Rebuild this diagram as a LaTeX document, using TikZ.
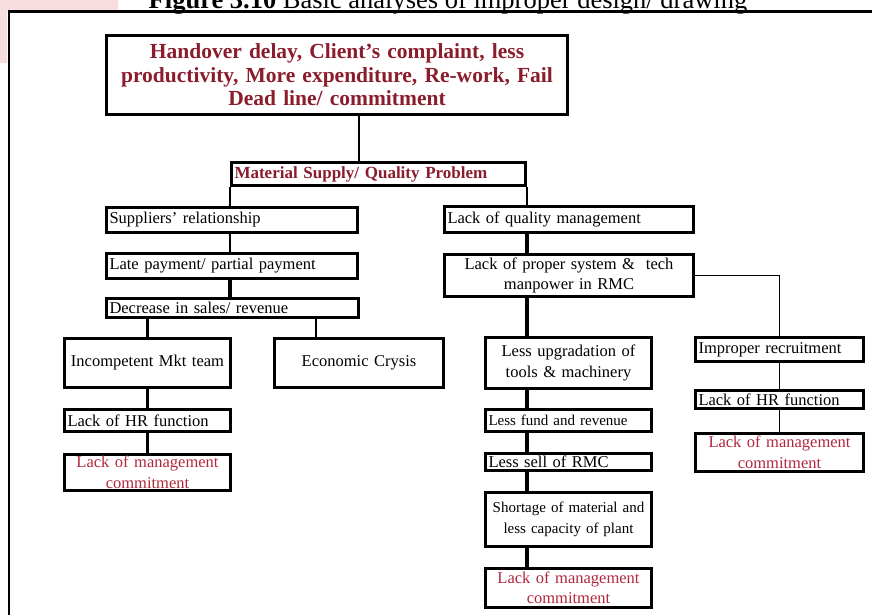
\documentclass[tikz,border=0pt]{standalone}
\usepackage{fontspec}
\setmainfont{Liberation Serif}
\definecolor{headred}{HTML}{8A1C2C}
\definecolor{causered}{HTML}{B0283C}
\definecolor{pinkbg}{HTML}{F9DCE0}

\begin{document}
\begin{tikzpicture}[x=1pt,y=-1pt,
  box/.style={draw, line width=3pt, inner xsep=3pt, inner ysep=0pt,
    font=\fontsize{16.5}{20.5}\selectfont},
  lbox/.style={box, align=left},
  cbox/.style={box, align=center},
  redbox/.style={cbox, text=causered},
  thinline/.style={line width=1.8pt},
  thickline/.style={line width=3.4pt}]
  \useasboundingbox (0,0) rectangle (872,615);
  \fill[pinkbg] (0,0) rectangle (118,11) (0,11) rectangle (7,63);
  % title, cut at the top of the page
  \node[anchor=base, font=\fontsize{26.5}{28}\selectfont] (title) at (448,8.5)
    {\textbf{Figure 3.10} Basic analyses of improper design/ drawing};
  \draw[line width=2.6pt] (9,620) -- (9,11.7) -- (880,11.7);

  % effect
  \node[cbox, text width=455pt, minimum height=79pt, text=headred,
    font=\bfseries\fontsize{21.5}{23.5}\selectfont] (top) at (337,75)
    {Handover delay, Client's complaint, less\\
     productivity, More expenditure, Re-work, Fail\\
     Dead line/ commitment};
  \node[lbox, text width=288pt, minimum height=23pt, text=headred,
    font=\bfseries\fontsize{17}{19}\selectfont] (ms) at (378.5,174)
    {Material Supply/ Quality Problem};

  % supply branch
  \node[lbox, text width=245pt, minimum height=25pt] (sup) at (232,220) {Suppliers' relationship};
  \node[lbox, text width=245pt, minimum height=25pt] (late) at (232,266) {Late payment/ partial payment};
  \node[lbox, text width=246pt, minimum height=19pt] (dec) at (232.5,308) {Decrease in sales/ revenue};
  \node[cbox, text width=160pt, minimum height=49pt] (inc) at (147.5,363) {Incompetent Mkt team};
  \node[cbox, text width=163pt, minimum height=49pt] (eco) at (359,363) {Economic Crysis};
  \node[lbox, text width=160pt, minimum height=22pt] (hrl) at (147.5,420.5) {Lack of HR function};
  \node[redbox, text width=160pt, minimum height=36pt] (mcl) at (147.5,472.5)
    {Lack of management\\ commitment};

  % quality branch
  \node[lbox, text width=243pt, minimum height=26pt] (lqm) at (569,219.5) {Lack of quality management};
  \node[cbox, text width=243pt, minimum height=42pt] (lps) at (569,275.5)
    {Lack of proper system \&\ \ tech\\ manpower in RMC};
  \node[cbox, text width=160pt, minimum height=51pt] (upg) at (568.5,363)
    {Less upgradation of\\ tools \& machinery};
  \node[lbox, text width=160pt, minimum height=22pt, font=\fontsize{15}{17}\selectfont] (fund) at (568.5,420.5)
    {Less fund and revenue};
  \node[lbox, text width=160pt, minimum height=17pt] (sell) at (568.5,462) {Less sell of RMC};
  \node[cbox, text width=160pt, minimum height=54pt, font=\fontsize{15}{20.5}\selectfont] (short) at (568.5,519.5)
    {Shortage of material and\\ less capacity of plant};
  \node[redbox, text width=160pt, minimum height=39pt] (mcm) at (568.5,588)
    {Lack of management\\ commitment};
  \node[lbox, text width=162pt, minimum height=24pt] (impr) at (779.5,349.5) {Improper recruitment};
  \node[lbox, text width=162pt, minimum height=18pt] (hrr) at (779.5,399.5) {Lack of HR function};
  \node[redbox, text width=162pt, minimum height=38pt] (mcr) at (779.5,452.5)
    {Lack of management\\ commitment};

  \coordinate (drop) at ([xshift=22pt]top.south);
  \coordinate (ecotop) at ([xshift=-43pt]eco.north);

  \draw[thinline] (drop) -- (drop |- ms.north);
  \draw[thinline] (ms.south west) -- (ms.south west |- sup.north);
  \draw[thinline] (ms.south east) -- (ms.south east |- lqm.north);

  \draw[thinline] (sup.south -| ms.south west) -- (late.north -| ms.south west);
  \draw[thickline] (late.south -| ms.south west) -- (dec.north -| ms.south west);
  \draw[thickline] (inc.north |- dec.south) -- (inc.north);
  \draw[thinline] (ecotop |- dec.south) -- (ecotop);
  \draw[thickline] (inc.south) -- (hrl.north);
  \draw[thickline] (hrl.south) -- (mcl.north);

  \draw[thickline] (lqm.south -| ms.south east) -- (lps.north -| ms.south east);
  \draw[thickline] (lps.south -| ms.south east) -- (upg.north -| ms.south east);
  \draw[thickline] (upg.south -| ms.south east) -- (fund.north -| ms.south east);
  \draw[thickline] (fund.south -| ms.south east) -- (sell.north -| ms.south east);
  \draw[thickline] (sell.south -| ms.south east) -- (short.north -| ms.south east);
  \draw[thickline] (short.south -| ms.south east) -- (mcm.north -| ms.south east);
  \draw[thinline] (lps.east) -| (impr.north);
  \draw[thinline] (impr.south) -- (hrr.north);
  \draw[thinline] (hrr.south) -- (mcr.north);
\end{tikzpicture}
\end{document}
